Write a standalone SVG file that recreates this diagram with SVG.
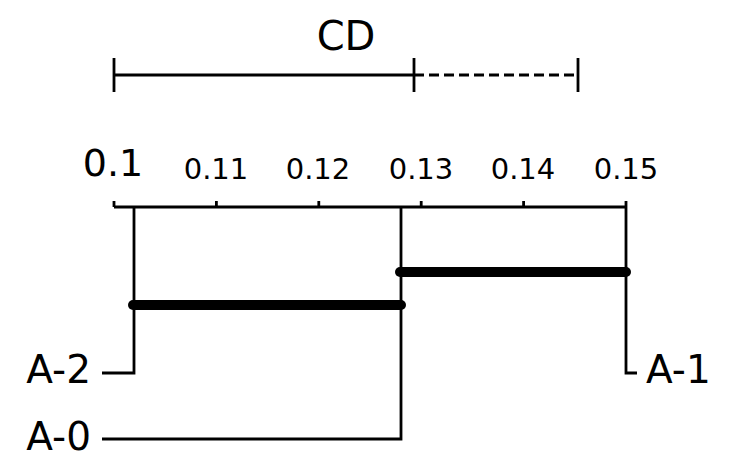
<svg xmlns="http://www.w3.org/2000/svg" width="743" height="474" viewBox="0 0 743 474">
<style>
text{font-family:"DejaVu Sans","Liberation Sans",sans-serif;fill:#000}
.tick{font-size:29px;text-anchor:middle}
.lab{font-size:39px}
.ln{stroke:#000;stroke-width:2.8;fill:none}
.bar{stroke:#000;stroke-width:10;stroke-linecap:round}
</style>
<rect width="743" height="474" fill="#fff"/>
<g id="cd">
<line class="ln" x1="114" y1="75" x2="414" y2="75"/>
<line class="ln" x1="414" y1="75" x2="578" y2="75" stroke-dasharray="10,5"/>
<line class="ln" x1="114" y1="58" x2="114" y2="92"/>
<line class="ln" x1="414" y1="58" x2="414" y2="92"/>
<line class="ln" x1="578" y1="58" x2="578" y2="92"/>
<text x="346" y="50" font-size="40" text-anchor="middle">CD</text>
</g>
<g id="axis">
<line class="ln" x1="114" y1="207" x2="626" y2="207"/>
<line class="ln" x1="114" y1="201" x2="114" y2="207"/>
<line class="ln" x1="216.4" y1="201" x2="216.4" y2="207"/>
<line class="ln" x1="318.8" y1="201" x2="318.8" y2="207"/>
<line class="ln" x1="421.2" y1="201" x2="421.2" y2="207"/>
<line class="ln" x1="523.6" y1="201" x2="523.6" y2="207"/>
<line class="ln" x1="626" y1="201" x2="626" y2="207"/>
<text x="113" y="176" font-size="38" text-anchor="middle">0.1</text>
<text class="tick" x="216" y="179">0.11</text>
<text class="tick" x="318" y="179">0.12</text>
<text class="tick" x="421" y="179">0.13</text>
<text class="tick" x="523" y="179">0.14</text>
<text class="tick" x="626" y="179">0.15</text>
</g>
<g id="connectors">
<polyline class="ln" points="134,207 134,373 102,373"/>
<polyline class="ln" points="401,207 401,439 102,439"/>
<polyline class="ln" points="626,207 626,373 637,373"/>
</g>
<g id="cliques">
<line class="bar" x1="133" y1="305" x2="401" y2="305"/>
<line class="bar" x1="400" y1="272" x2="626" y2="272"/>
</g>
<g id="A-2"><text class="lab" x="91" y="383" text-anchor="end">A-2</text></g>
<g id="A-0"><text class="lab" x="91" y="450" text-anchor="end">A-0</text></g>
<g id="A-1"><text class="lab" x="646" y="383">A-1</text></g>
</svg>
